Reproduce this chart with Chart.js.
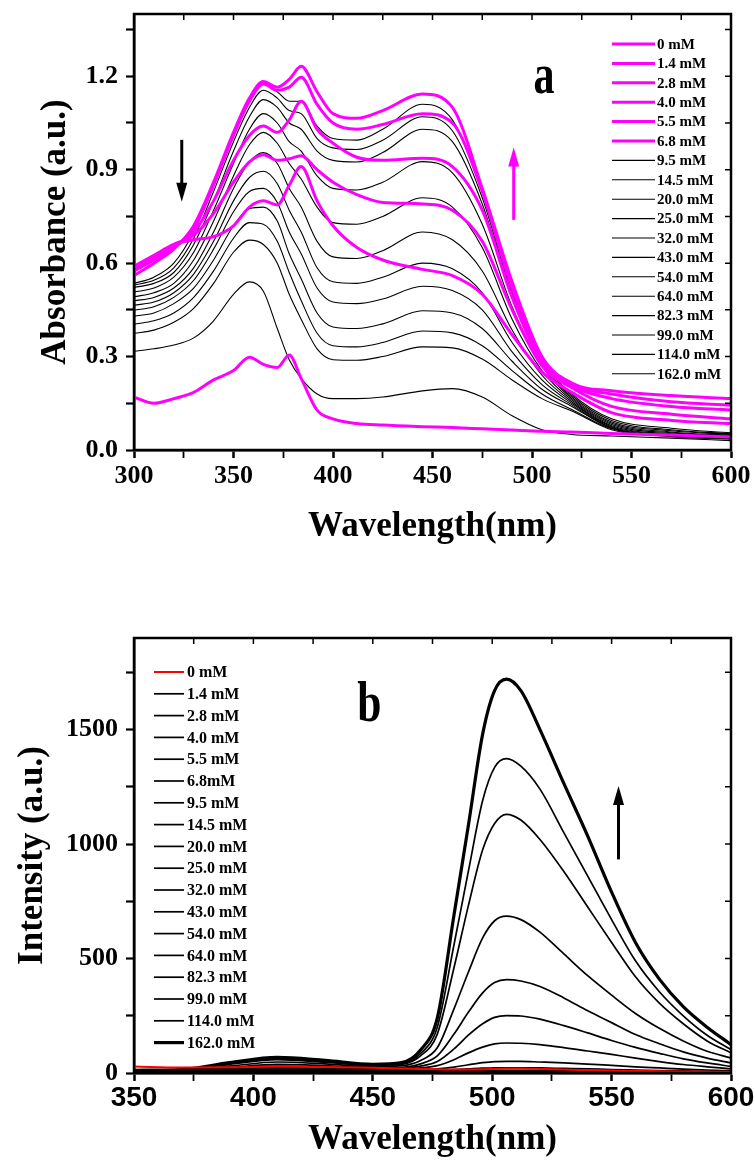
<!DOCTYPE html>
<html>
<head>
<meta charset="utf-8">
<script src="https://cdn.jsdelivr.net/npm/chart.js@4.4.1/dist/chart.umd.min.js"></script>
<style>
  html, body { margin: 0; padding: 0; background: #fff; }
  #boxA { position: absolute; left: 0; top: 0; width: 755px; height: 560px; }
  #boxB { position: absolute; left: 0; top: 620px; width: 755px; height: 545px; }
</style>
</head>
<body>
<div id="boxA"><canvas id="absorb" width="755" height="560"></canvas></div>
<div id="boxB"><canvas id="emit" width="755" height="545"></canvas></div>
<script>
// ---- panel a : absorbance ----
const wavelengthA = [300, 310, 320, 330, 340, 350, 358, 365, 372, 378, 384, 392, 400, 412, 425, 445, 460, 475, 490, 505, 520, 540, 570, 600];
const labelsA = ['0 mM', '1.4 mM', '2.8 mM', '4.0 mM', '5.5 mM', '6.8 mM', '9.5 mM', '14.5 mM', '20.0 mM', '25.0 mM',
                 '32.0 mM', '43.0 mM', '54.0 mM', '64.0 mM', '82.3 mM', '99.0 mM', '114.0 mM', '162.0 mM'];

const abs_0_0   = [0.170,0.150,0.165,0.185,0.225,0.255,0.298,0.275,0.265,0.305,0.230,0.128,0.100,0.085,0.080,0.075,0.072,0.068,0.064,0.060,0.058,0.053,0.048,0.042];
const abs_1_4   = [0.590,0.625,0.660,0.675,0.685,0.720,0.780,0.800,0.787,0.850,0.910,0.800,0.720,0.650,0.610,0.580,0.560,0.500,0.370,0.250,0.185,0.120,0.095,0.085];
const abs_2_8   = [0.585,0.620,0.660,0.690,0.760,0.860,0.925,0.948,0.930,0.935,0.945,0.900,0.860,0.820,0.795,0.790,0.770,0.670,0.450,0.270,0.200,0.140,0.115,0.100];
const abs_4_0   = [0.580,0.615,0.655,0.700,0.800,0.930,1.010,1.040,1.020,1.060,1.120,1.030,0.985,0.940,0.930,0.937,0.910,0.770,0.490,0.280,0.205,0.165,0.140,0.128];
const abs_5_5   = [0.575,0.610,0.650,0.710,0.850,1.010,1.120,1.175,1.155,1.165,1.197,1.110,1.050,1.030,1.045,1.080,1.050,0.830,0.520,0.290,0.210,0.180,0.155,0.144];
const abs_6_8   = [0.560,0.600,0.645,0.720,0.860,1.020,1.130,1.183,1.165,1.190,1.232,1.150,1.080,1.065,1.090,1.143,1.100,0.840,0.540,0.300,0.215,0.190,0.175,0.165];
const abs_9_5   = [0.535,0.555,0.600,0.700,0.850,1.010,1.120,1.175,1.150,1.120,1.120,1.040,1.000,0.995,1.030,1.110,1.060,0.830,0.510,0.290,0.180,0.100,0.070,0.055];
const abs_14_5  = [0.530,0.545,0.585,0.680,0.830,0.990,1.100,1.155,1.130,1.090,1.080,1.000,0.970,0.965,0.995,1.070,1.025,0.810,0.500,0.285,0.175,0.095,0.065,0.052];
const abs_20_0  = [0.522,0.535,0.570,0.660,0.800,0.960,1.070,1.125,1.100,1.050,1.030,0.960,0.930,0.925,0.955,1.030,0.990,0.790,0.490,0.280,0.170,0.090,0.062,0.050];
const abs_25_0  = [0.507,0.520,0.555,0.635,0.770,0.920,1.030,1.080,1.050,0.990,0.960,0.880,0.840,0.835,0.860,0.926,0.890,0.725,0.460,0.270,0.165,0.086,0.058,0.047];
const abs_32_0  = [0.492,0.505,0.535,0.610,0.735,0.880,0.980,1.020,0.985,0.920,0.870,0.780,0.730,0.725,0.750,0.810,0.780,0.650,0.420,0.255,0.160,0.082,0.055,0.045];
const abs_43_0  = [0.479,0.490,0.520,0.585,0.700,0.840,0.925,0.955,0.920,0.840,0.780,0.670,0.620,0.615,0.640,0.700,0.675,0.575,0.385,0.240,0.155,0.078,0.052,0.043];
const abs_54_0  = [0.465,0.475,0.505,0.565,0.670,0.800,0.875,0.895,0.855,0.770,0.700,0.585,0.540,0.535,0.555,0.600,0.582,0.505,0.345,0.225,0.150,0.075,0.050,0.041];
const abs_64_0  = [0.449,0.460,0.490,0.545,0.645,0.765,0.830,0.840,0.795,0.700,0.630,0.520,0.475,0.470,0.485,0.526,0.512,0.450,0.315,0.210,0.145,0.072,0.048,0.039];
const abs_82_3  = [0.430,0.440,0.470,0.520,0.610,0.720,0.775,0.780,0.735,0.630,0.550,0.440,0.395,0.390,0.405,0.447,0.440,0.390,0.285,0.195,0.140,0.070,0.046,0.037];
const abs_99_0  = [0.404,0.415,0.440,0.490,0.575,0.680,0.730,0.725,0.670,0.570,0.480,0.375,0.335,0.331,0.345,0.382,0.376,0.335,0.255,0.180,0.130,0.068,0.045,0.036];
const abs_114_0 = [0.374,0.385,0.410,0.455,0.535,0.635,0.674,0.660,0.600,0.500,0.420,0.325,0.290,0.288,0.300,0.331,0.328,0.292,0.225,0.165,0.125,0.065,0.043,0.035];
const abs_162_0 = [0.317,0.325,0.337,0.360,0.415,0.500,0.540,0.510,0.390,0.290,0.230,0.180,0.165,0.165,0.170,0.190,0.197,0.170,0.110,0.065,0.050,0.045,0.038,0.030];

const seriesA = [abs_0_0, abs_1_4, abs_2_8, abs_4_0, abs_5_5, abs_6_8, abs_9_5, abs_14_5, abs_20_0, abs_25_0,
                 abs_32_0, abs_43_0, abs_54_0, abs_64_0, abs_82_3, abs_99_0, abs_114_0, abs_162_0];

// ---- panel b : emission ----
const wavelengthB = [350, 370, 390, 410, 430, 450, 462, 470, 477, 484, 490, 496, 501, 506, 512, 520, 530, 540, 550, 560, 570, 580, 590, 600];
const labelsB = ['0 mM', '1.4 mM', '2.8 mM', '4.0 mM', '5.5 mM', '6.8mM', '9.5 mM', '14.5 mM', '20.0 mM', '25.0 mM',
                 '32.0 mM', '43.0 mM', '54.0 mM', '64.0 mM', '82.3 mM', '99.0 mM', '114.0 mM', '162.0 mM'];

const int_0_0   = [28,24,25,28,26,23,20,18,16,15,15,16,18,20,20,18,15,13,11,9,8,7,6,5];
const int_1_4   = [1,1,2,3,2,2,1,1,1,2,2,2,2,2,2,2,2,1,1,1,1,1,1,1];
const int_2_8   = [1,1,3,3,3,2,2,2,2,2,2,2,2,2,2,2,2,2,2,1,1,1,1,1];
const int_4_0   = [1,2,3,4,3,3,2,2,3,3,3,3,3,3,3,3,3,2,2,2,2,2,1,1];
const int_5_5   = [1,2,4,5,4,3,3,3,3,3,4,4,4,4,4,4,3,3,3,2,2,2,2,1];
const int_6_8   = [2,2,4,6,5,4,3,4,4,4,4,5,5,5,5,5,4,4,3,3,3,2,2,2];
const int_9_5   = [2,3,5,7,6,4,4,5,5,5,6,6,6,6,6,6,5,5,4,4,3,3,3,2];
const int_14_5  = [2,3,6,8,7,5,5,6,6,7,8,8,9,9,9,8,8,7,6,5,5,4,4,3];
const int_20_0  = [3,4,7,10,9,6,6,7,8,9,10,11,12,12,12,11,10,9,8,7,6,6,5,4];
const int_25_0  = [3,5,9,13,11,8,8,10,12,15,18,21,22,23,23,22,20,18,15,13,11,9,7,6];
const int_32_0  = [4,6,12,18,15,11,11,14,18,26,36,45,50,51,51,48,44,39,33,27,22,17,13,10];
const int_43_0  = [5,7,16,24,20,14,15,22,32,58,88,113,127,131,130,124,111,96,81,65,50,37,27,18];
const int_54_0  = [6,8,20,30,25,18,20,30,50,105,165,215,243,251,249,235,207,175,142,112,86,62,44,29];
const int_64_0  = [7,9,24,38,32,22,25,40,75,170,265,350,395,408,402,378,328,272,220,168,128,92,65,44];
const int_82_3  = [8,11,30,48,40,28,32,55,110,280,440,590,665,685,670,615,520,425,340,260,195,140,95,66];
const int_99_0  = [9,13,38,58,47,33,38,75,170,460,730,975,1090,1130,1105,1020,880,725,570,420,305,215,140,88];
const int_114_0 = [10,14,42,62,50,35,40,85,200,560,880,1190,1335,1373,1340,1240,1050,860,670,490,355,250,165,102];
const int_162_0 = [12,15,45,68,55,38,45,100,240,690,1080,1480,1670,1720,1670,1500,1265,1035,790,570,410,290,200,124];

const seriesB = [int_0_0, int_1_4, int_2_8, int_4_0, int_5_5, int_6_8, int_9_5, int_14_5, int_20_0, int_25_0,
                 int_32_0, int_43_0, int_54_0, int_64_0, int_82_3, int_99_0, int_114_0, int_162_0];

const SERIF = '"Liberation Serif", "Times New Roman", serif';
const NARROW = '"Liberation Sans Narrow", "Arial Narrow", "Liberation Sans", Arial, sans-serif';
const MAGENTA = '#ff00ff';

// frame on top/right with inward ticks
const framePlugin = {
  id: 'frame',
  afterDatasetsDraw(chart) {
    const {ctx, chartArea: a, scales: {x, y}} = chart;
    ctx.save();
    ctx.strokeStyle = '#000';
    ctx.lineWidth = 1.5;
    ctx.beginPath();
    x.ticks.forEach(t => {
      if (t.value <= x.min || t.value >= x.max) return;
      const px = x.getPixelForValue(t.value);
      ctx.moveTo(px, a.top); ctx.lineTo(px, a.top + 6);
    });
    y.ticks.forEach(t => {
      if (t.value <= y.min || t.value >= y.max) return;
      const py = y.getPixelForValue(t.value);
      ctx.moveTo(a.right, py); ctx.lineTo(a.right - 6, py);
    });
    ctx.stroke();
    ctx.lineWidth = 2.5;
    ctx.strokeRect(a.left, a.top, a.right - a.left, a.bottom - a.top);
    ctx.restore();
  }
};

// legend as a column inside the plot
const keyPlugin = {
  id: 'key',
  afterDraw(chart, args, o) {
    const {ctx, chartArea: a} = chart;
    ctx.save();
    ctx.font = o.font;
    ctx.textBaseline = 'middle';
    ctx.textAlign = 'left';
    chart.data.datasets.forEach((ds, i) => {
      const yy = a.top + o.top + i * o.step;
      const x0 = a.left + o.left;
      ctx.strokeStyle = ds.borderColor;
      ctx.lineWidth = ds.borderWidth;
      ctx.beginPath();
      ctx.moveTo(x0, yy);
      ctx.lineTo(x0 + o.len, yy);
      ctx.stroke();
      ctx.fillStyle = '#000';
      ctx.fillText(ds.label, x0 + o.len + o.gap, yy + 1);
    });
    ctx.restore();
  }
};

// panel letter and arrows
const marksPlugin = {
  id: 'marks',
  afterDatasetsDraw(chart, args, o) {
    const {ctx, scales: {x, y}} = chart;
    ctx.save();
    ctx.fillStyle = '#000';
    ctx.font = o.letterFont;
    ctx.textAlign = 'center';
    ctx.textBaseline = 'alphabetic';
    ctx.translate(x.getPixelForValue(o.letter.x), y.getPixelForValue(o.letter.y));
    ctx.scale(0.75, 1);
    ctx.fillText(o.letter.text, 0, 0);
    ctx.restore();
    o.arrows.forEach(ar => {
      const px = x.getPixelForValue(ar.x);
      const y1 = y.getPixelForValue(ar.from);
      const y2 = y.getPixelForValue(ar.to);
      const dir = y2 > y1 ? 1 : -1;
      ctx.save();
      ctx.strokeStyle = ar.color;
      ctx.fillStyle = ar.color;
      ctx.lineWidth = 3;
      ctx.beginPath();
      ctx.moveTo(px, y1);
      ctx.lineTo(px, y2 - dir * 16);
      ctx.stroke();
      ctx.beginPath();
      ctx.moveTo(px, y2);
      ctx.lineTo(px - 5.5, y2 - dir * 19);
      ctx.lineTo(px + 5.5, y2 - dir * 19);
      ctx.closePath();
      ctx.fill();
      ctx.restore();
    });
  }
};

function makeChart(id, c) {
  return new Chart(document.getElementById(id), {
    type: 'line',
    data: {
      datasets: c.series.map((vals, i) => ({
        label: c.labels[i],
        data: vals.map((v, j) => ({x: c.wl[j], y: v})),
        borderColor: c.colorOf(i),
        borderWidth: c.widthOf(i),
        pointRadius: 0,
        fill: false,
        cubicInterpolationMode: 'monotone'
      }))
    },
    options: {
      responsive: false,
      animation: false,
      events: [],
      layout: {padding: c.padding},
      plugins: {
        legend: {display: false},
        tooltip: {enabled: false},
        key: c.key,
        marks: c.marks
      },
      scales: {
        x: {
          type: 'linear',
          min: c.xMin, max: c.xMax,
          afterFit: s => { s.height = c.xHeight; s.paddingLeft = 0; s.paddingRight = 0; },
          ticks: {
            stepSize: 25, autoSkip: false, maxRotation: 0, padding: c.xTickPad,
            color: '#000', font: c.xTickFont,
            callback: v => (v % 50 === 0 ? String(v) : '')
          },
          grid: {drawOnChartArea: false, drawTicks: true, tickLength: 8, tickColor: '#000',
                 tickWidth: ctx => (ctx.tick && ctx.tick.value % 50 === 0 ? 2.5 : 1.8)},
          border: {display: true, color: '#000', width: 2.5},
          title: {display: true, text: 'Wavelength(nm)', color: '#000',
                  font: {family: SERIF, size: 35, weight: 'bold'}, padding: {top: 0, bottom: c.xTitlePad}}
        },
        y: {
          min: 0, max: c.yMax,
          afterFit: s => { s.width = 134; s.paddingTop = 0; s.paddingBottom = 0; },
          ticks: {
            stepSize: c.yStep, includeBounds: false, padding: 8, color: '#000',
            font: {family: SERIF, size: 26, weight: 'bold'},
            callback: c.yLabel
          },
          grid: {drawOnChartArea: false, drawTicks: true, tickLength: 8, tickColor: '#000', tickWidth: 2.2},
          border: {display: true, color: '#000', width: 2.5},
          title: {display: true, text: c.yTitle, color: '#000',
                  font: {family: SERIF, size: 35, weight: 'bold'}, padding: {top: c.yTitlePad, bottom: 0}}
        }
      }
    },
    plugins: [framePlugin, keyPlugin, marksPlugin]
  });
}

makeChart('absorb', {
  wl: wavelengthA, series: seriesA, labels: labelsA,
  colorOf: i => (i < 6 ? MAGENTA : '#000'),
  widthOf: i => (i < 6 ? 3 : 1.1),
  padding: {left: 0, right: 24, top: 14, bottom: 0},
  xMin: 300, xMax: 600, xHeight: 110, xTickPad: 3, xTitlePad: 12,
  xTickFont: {family: SERIF, size: 26, weight: 'bold'},
  yMax: 1.4, yStep: 0.15, yTitle: 'Absorbance (a.u.)', yTitlePad: 35,
  yLabel: v => { const k = v / 0.3; return Math.abs(k - Math.round(k)) < 1e-6 ? v.toFixed(1) : ''; },
  key: {left: 478, top: 30, step: 19.4, len: 43, gap: 2, font: 'bold 15px ' + SERIF},
  marks: {
    letter: {text: 'a', x: 506, y: 1.147}, letterFont: 'bold 56px ' + SERIF,
    arrows: [
      {x: 324, from: 0.996, to: 0.797, color: '#000'},
      {x: 490.8, from: 0.739, to: 0.971, color: MAGENTA}
    ]
  }
});

makeChart('emit', {
  wl: wavelengthB, series: seriesB, labels: labelsB,
  colorOf: i => (i === 0 ? '#ff0000' : '#000'),
  widthOf: i => (i === 0 ? 2 : (i === 17 ? 3.2 : 1.7)),
  padding: {left: 0, right: 24, top: 18, bottom: 0},
  xMin: 350, xMax: 600, xHeight: 92, xTickPad: 0, xTitlePad: 4,
  xTickFont: {family: NARROW, size: 28, weight: 'bold'},
  yMax: 1900, yStep: 250, yTitle: 'Intensity (a.u.)', yTitlePad: 12,
  yLabel: v => (v % 500 === 0 ? String(v) : ''),
  key: {left: 20, top: 34, step: 21.8, len: 30, gap: 3, font: 'bold 16px ' + SERIF},
  marks: {
    letter: {text: 'b', x: 448.6, y: 1537}, letterFont: 'bold 58px ' + SERIF,
    arrows: [
      {x: 552.9, from: 933, to: 1254, color: '#000'}
    ]
  }
});
</script>
</body>
</html>
